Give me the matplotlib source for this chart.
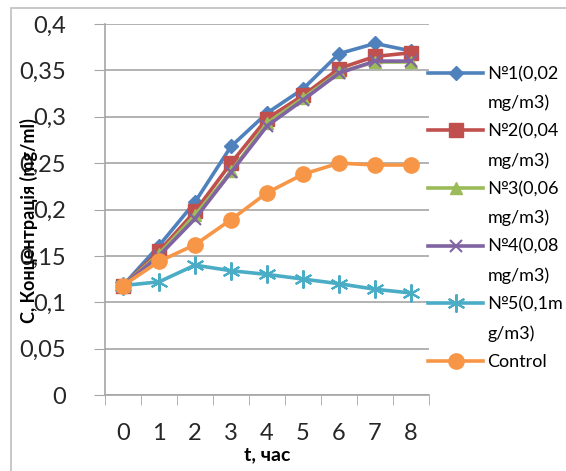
import matplotlib
matplotlib.use("Agg")
import matplotlib.pyplot as plt
from matplotlib.lines import Line2D
from matplotlib.patches import Rectangle
from matplotlib.ticker import FuncFormatter, FixedLocator

plt.rcParams['font.family'] = ['Lato', 'Open Sans', 'DejaVu Sans']

hours = [0, 1, 2, 3, 4, 5, 6, 7, 8]
s1 = [0.118, 0.161, 0.208, 0.268, 0.304, 0.330, 0.368, 0.379, 0.371]
s2 = [0.118, 0.155, 0.198, 0.250, 0.298, 0.323, 0.352, 0.365, 0.369]
s3 = [0.118, 0.152, 0.194, 0.241, 0.293, 0.320, 0.348, 0.359, 0.359]
s4 = [0.118, 0.150, 0.190, 0.240, 0.290, 0.318, 0.347, 0.360, 0.360]
s5 = [0.118, 0.122, 0.140, 0.134, 0.130, 0.125, 0.120, 0.114, 0.110]
control = [0.118, 0.144, 0.162, 0.189, 0.218, 0.238, 0.250, 0.248, 0.248]

first_lines = ["№1(0,02", "№2(0,04", "№3(0,06", "№4(0,08", "№5(0,1m"]
second_lines = ["mg/m3)", "mg/m3)", "mg/m3)", "mg/m3)", "g/m3)"]

series = [s1, s2, s3, s4, s5, control]
colors = ['#4F81BD', '#C0504D', '#9BBB59', '#8064A2', '#4BACC6', '#F79646']
markers = ['D', 's', '^', 'x', (6, 2, 0), 'o']
msizes = [7, 10, 9, 9, 13, 11]

fig = plt.figure(figsize=(5.66, 4.71), dpi=100)
ax = fig.add_axes([105 / 566, 1 - 395 / 471, 324 / 566, 371 / 471])

# chart border
fig.patches.append(Rectangle((11 / 566, -0.05), 1.2, 1 - 8 / 471 + 0.05,
                             transform=fig.transFigure, fill=False,
                             edgecolor='#BFBFBF', linewidth=1.2))

handles = []
for vals, c, m, ms in zip(series, colors, markers, msizes):
    mew = 1.5 if m in ('x', (6, 2, 0)) else 1
    ln, = ax.plot(hours, vals, color=c, linewidth=2.6, marker=m, markersize=ms,
                  markeredgecolor=c, markerfacecolor=c, markeredgewidth=mew,
                  solid_joinstyle='round')
    handles.append(ln)

ax.set_xlim(-0.5, 8.5)
ax.set_ylim(0, 0.4)
ax.set_yticks([i * 0.05 for i in range(9)])
ax.yaxis.set_major_formatter(FuncFormatter(lambda v, p: ('%g' % round(v, 2)).replace('.', ',')))
ax.set_xticks(hours)
ax.xaxis.set_minor_locator(FixedLocator([h - 0.5 for h in hours] + [8.5]))
ax.tick_params(axis='x', which='major', length=0, pad=20, labelsize=17, colors='#262626')
ax.tick_params(axis='x', which='minor', length=7, color='#A6A6A6', direction='out')
ax.tick_params(axis='y', length=8, pad=20, labelsize=17, color='#A6A6A6', labelcolor='#262626')

ax.grid(axis='y', color='#A6A6A6', linewidth=1.2)
ax.set_axisbelow(True)
for side in ['top', 'right']:
    ax.spines[side].set_visible(False)
for side in ['left', 'bottom']:
    ax.spines[side].set_color('#A6A6A6')
    ax.spines[side].set_linewidth(1.2)

ax.set_xlabel('t, час', fontsize=14, fontweight='bold', labelpad=2)
ax.set_ylabel('С, Концентрація (mg/ml)', fontsize=13, fontweight='bold')
ax.yaxis.set_label_coords(-0.208, 0.47)

# legend rows: each series label wraps onto two lines
blank = Line2D([], [], linestyle='none')
leg_handles = []
leg_labels = []
for i in range(5):
    leg_handles += [handles[i], blank]
    leg_labels += [first_lines[i], second_lines[i]]
leg_handles.append(handles[5])
leg_labels.append('Control')

fig.legend(leg_handles, leg_labels, loc='upper left',
           bbox_to_anchor=(428 / 566, 1 - 66 / 471), frameon=False,
           fontsize=13, handlelength=3.05, handletextpad=0.25,
           labelspacing=0.69, borderpad=0, borderaxespad=0)

fig.savefig('out.png', dpi=100)
